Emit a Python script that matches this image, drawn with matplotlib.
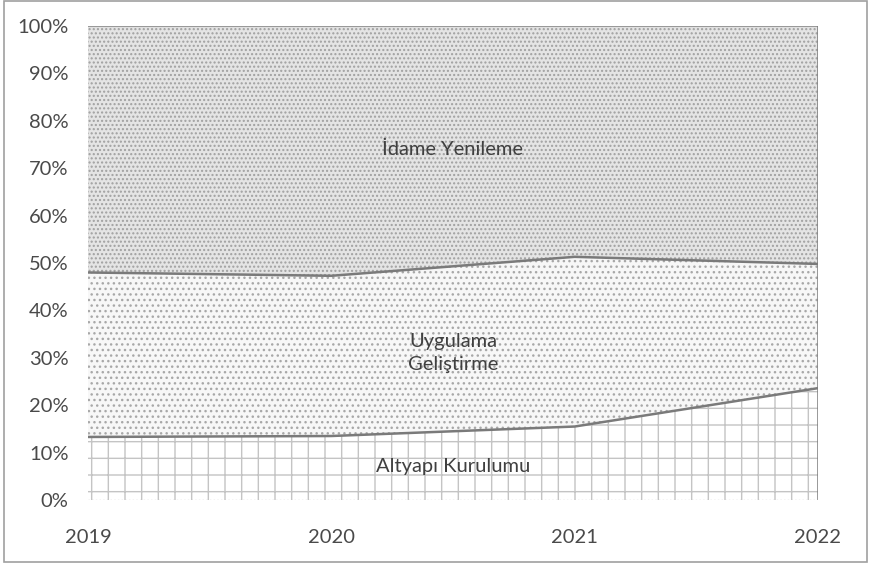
import matplotlib
matplotlib.use("Agg")
import matplotlib.pyplot as plt
import numpy as np

years = ["2019", "2020", "2021", "2022"]
altyapi = [13.3, 13.5, 15.5, 23.6]          # % share
uygulama = [34.7, 33.8, 35.8, 26.2]         # % share
idame = [52.0, 52.7, 48.7, 50.2]            # % share
labels = ["Altyapı Kurulumu", "Uygulama\nGeliştirme", "İdame Yenileme"]

plt.rcParams['font.family'] = ['Lato', 'DejaVu Sans']

fig = plt.figure(figsize=(8.7, 5.65), dpi=100)
ax = fig.add_axes([88/870, 65/565, 730/870, 474/565])

x = np.arange(len(years))
a = np.array(altyapi)
u = np.array(uygulama)
i = np.array(idame)
tot = a + u + i
a1 = a / tot * 100
a2 = (a + u) / tot * 100
a3 = np.full_like(a1, 100.0)

ax.fill_between(x, 0, a1, facecolor="white", edgecolor="#c4c4c4", hatch="+", linewidth=0)
ax.fill_between(x, a1, a2, facecolor="#f7f7f7", edgecolor="#a8a8a8", hatch="...", linewidth=0)
ax.fill_between(x, a2, a3, facecolor="#e4e4e4", edgecolor="#a0a0a0", hatch="....", linewidth=0)

lc = "#7a7a7a"
ax.plot(x, a1, color=lc, lw=1.8)
ax.plot(x, a2, color=lc, lw=1.8)
ax.plot(x, a3, color="#999999", lw=1.5)
ax.plot([x[-1], x[-1]], [0, 100], color=lc, lw=1.8)
ax.plot([x[0], x[-1]], [0, 0], color="#c8c8c8", lw=1.0, ls=":")

ax.set_xlim(x[0], x[-1])
ax.set_ylim(0, 100)
ax.set_yticks(np.arange(0, 101, 10))
ax.set_yticklabels([f"{v}%" for v in range(0, 101, 10)])
ax.set_xticks(x)
ax.set_xticklabels(years)
for s in ax.spines.values():
    s.set_visible(False)
ax.tick_params(length=0, labelsize=14.5, colors="#4a4a4a")
ax.tick_params(axis="y", pad=14)
ax.tick_params(axis="x", pad=21)

tc = "#404040"
ax.text(1.5, 74.0, labels[2], ha="center", va="center", fontsize=14.5, color=tc)
ax.text(1.5, 31.0, labels[1], ha="center", va="center", fontsize=14.5, color=tc, linespacing=1.4)
ax.text(1.5, 7.0, labels[0], ha="center", va="center", fontsize=14.5, color=tc)

frame = plt.Rectangle((4/870, 3/565), 863/870, 561/565, transform=fig.transFigure,
                      fill=False, edgecolor="#a0a0a0", lw=1.2)
fig.patches.append(frame)

fig.savefig("out.png", dpi=100)
